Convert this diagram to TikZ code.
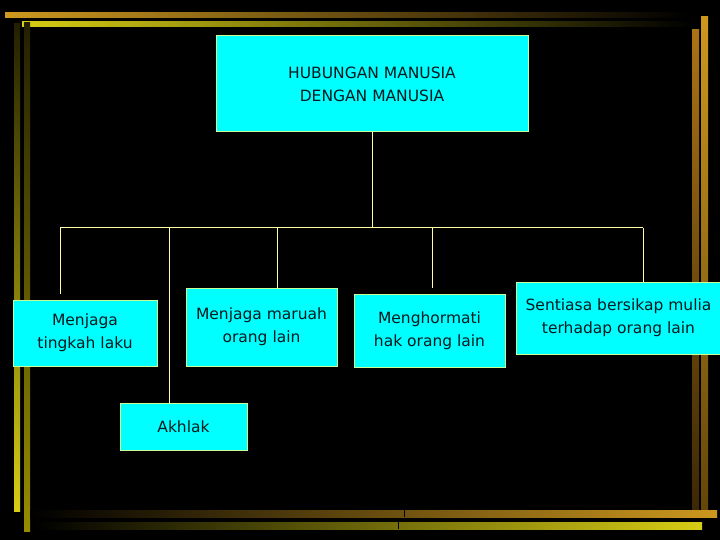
\documentclass[tikz,border=0pt]{standalone}
\usepackage{fontspec}
\setmainfont{DejaVu Sans}
\definecolor{boxfill}{RGB}{0,255,255}
\definecolor{boxline}{RGB}{200,255,150}
\definecolor{wire}{RGB}{255,255,160}
\definecolor{txt}{RGB}{5,25,30}
\definecolor{gold}{RGB}{205,152,30}
\definecolor{yel}{RGB}{215,205,20}
\definecolor{olive}{RGB}{150,140,0}
\definecolor{darkol}{RGB}{35,32,0}
\definecolor{darkor}{RGB}{60,40,5}
\tikzset{
  box/.style={draw=boxline, line width=1pt, fill=boxfill, text=txt, align=center,
    inner sep=0pt, font=\fontsize{15.5}{23}\selectfont},
  conn/.style={draw=wire, line width=1pt},
}
\begin{document}
\begin{tikzpicture}[x=1pt,y=-1pt]
\useasboundingbox (0,0) rectangle (720,540);
\fill[black] (0,0) rectangle (720,540);
% frame bars
\shade[left color=gold, right color=black] (5,13) rectangle (690,18);
\shade[left color=yel, right color=black] (22,22) rectangle (693,27);
\shade[top color=darkol, bottom color=yel] (14,24) rectangle (20,511);
\shade[top color=darkol, bottom color=olive] (24,23) rectangle (30,531);
\shade[top color={rgb,255:red,170;green,115;blue,20}, bottom color=darkor] (692,30) rectangle (699,510);
\shade[top color=gold, bottom color={rgb,255:red,100;green,70;blue,10}] (701,17) rectangle (708,510);
\shade[left color=black, right color=gold] (30,510) rectangle (717,517);
\shade[left color=black, right color=yel] (35,522) rectangle (702,529);
\draw[black, line width=0.8pt] (404.5,510) -- (404.5,517);
\draw[black, line width=0.8pt] (398.5,522) -- (398.5,529);
% nodes
\node[box, minimum width=312pt, minimum height=96pt] (top) at (372,84) {HUBUNGAN MANUSIA\\DENGAN MANUSIA};
\node[box, minimum width=144pt, minimum height=66pt] (tingkah) at (85,333) {Menjaga\\tingkah laku};
\node[box, minimum width=151pt, minimum height=78pt] (maruah) at (261.5,327) {Menjaga maruah\\orang lain};
\node[box, minimum width=127pt, minimum height=47pt] (akhlak) at (183.5,426.5) {Akhlak};
\node[box, minimum width=151pt, minimum height=73pt] (hormat) at (429.5,330.5) {Menghormati\\hak orang lain};
\node[box, minimum width=205pt, minimum height=72pt] (mulia) at (618.5,318) {Sentiasa bersikap mulia\\terhadap orang lain};
% connectors
\coordinate (bus) at (372,228);
\coordinate (busL) at (60,228);
\coordinate (busR) at (643,228);
\coordinate (d1) at (60,294);
\coordinate (d4) at (432,288);
\draw[conn] (top.south) -- (bus);
\draw[conn] (busL) -- (busR);
\draw[conn] (d1) -- (busL);
\draw[conn] (akhlak.north -| 169,0) -- (169,228);
\draw[conn] (maruah.north -| 277,0) -- (277,228);
\draw[conn] (d4) -- (d4 |- bus);
\draw[conn] (mulia.north -| busR) -- (busR);
\end{tikzpicture}
\end{document}
